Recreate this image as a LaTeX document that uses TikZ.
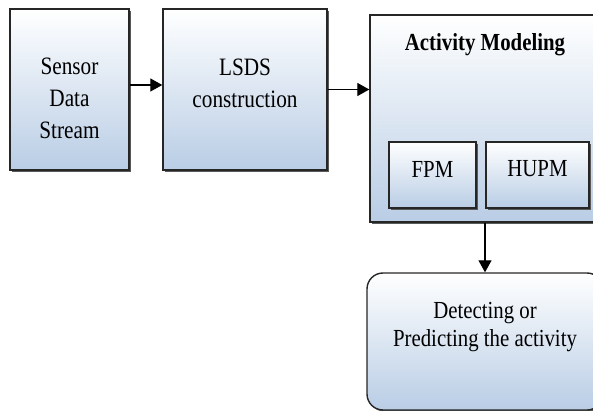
\documentclass[tikz,border=0pt]{standalone}
\usepackage{fontspec}
\setmainfont[FakeStretch=0.85]{Liberation Serif}
\usepackage{tikz}
\usetikzlibrary{arrows.meta,shadows}
\definecolor{boxblue}{HTML}{B9CDE5}
\tikzset{>={Triangle[length=12pt,width=13pt]}}

\begin{document}
\begin{tikzpicture}[x=1pt,y=-1pt,
    stagebox/.style={draw=black!85,line width=1.4pt,inner sep=0pt,
      top color=white,bottom color=boxblue,
      drop shadow={shadow xshift=1.6pt,shadow yshift=-1.6pt,fill=black!65,opacity=1}},
    bigtext/.style={font=\fontsize{25}{32}\selectfont,align=center},
    smalltext/.style={font=\fontsize{24.5}{28}\selectfont,align=center},
    flow/.style={line width=1.3pt,->}]
    \useasboundingbox (0,0) rectangle (593,411);

    \node[stagebox,minimum width=119pt,minimum height=161pt,
      label={[bigtext,yshift=-9pt]center:Sensor\\Data\\Stream}] (sensor) at (69.5,89.5) {};
    \node[stagebox,minimum width=164pt,minimum height=161pt,
      label={[bigtext,yshift=6.5pt]center:LSDS\\construction}] (lsds) at (245,89.5) {};
    \node[stagebox,minimum width=230pt,minimum height=207pt,
      label={[smalltext,font=\fontsize{24.5}{28}\selectfont\bfseries,anchor=base,yshift=-36pt]north:Activity Modeling}] (model) at (485,118.5) {};

    \node[stagebox,minimum width=87pt,minimum height=66pt,
      label={[smalltext,yshift=6pt]center:FPM}] (fpm) at (432.5,175) {};
    \node[stagebox,minimum width=103pt,minimum height=66pt,
      label={[smalltext,yshift=6pt]center:HUPM}] (hupm) at (537.5,175) {};

    \node[stagebox,rounded corners=16pt,minimum width=236pt,minimum height=137pt,
      label={[smalltext,yshift=14pt]center:Detecting or\\Predicting the activity}] (detect) at (485,341.5) {};

    %arrows
    \draw[flow] ([yshift=4.5pt]sensor.east) -- ([yshift=4.5pt]lsds.west);
    \draw[flow] (lsds.east) -- (lsds.east -| model.west);
    \draw[flow] (model.south) -- (detect.north);
\end{tikzpicture}
\end{document}
